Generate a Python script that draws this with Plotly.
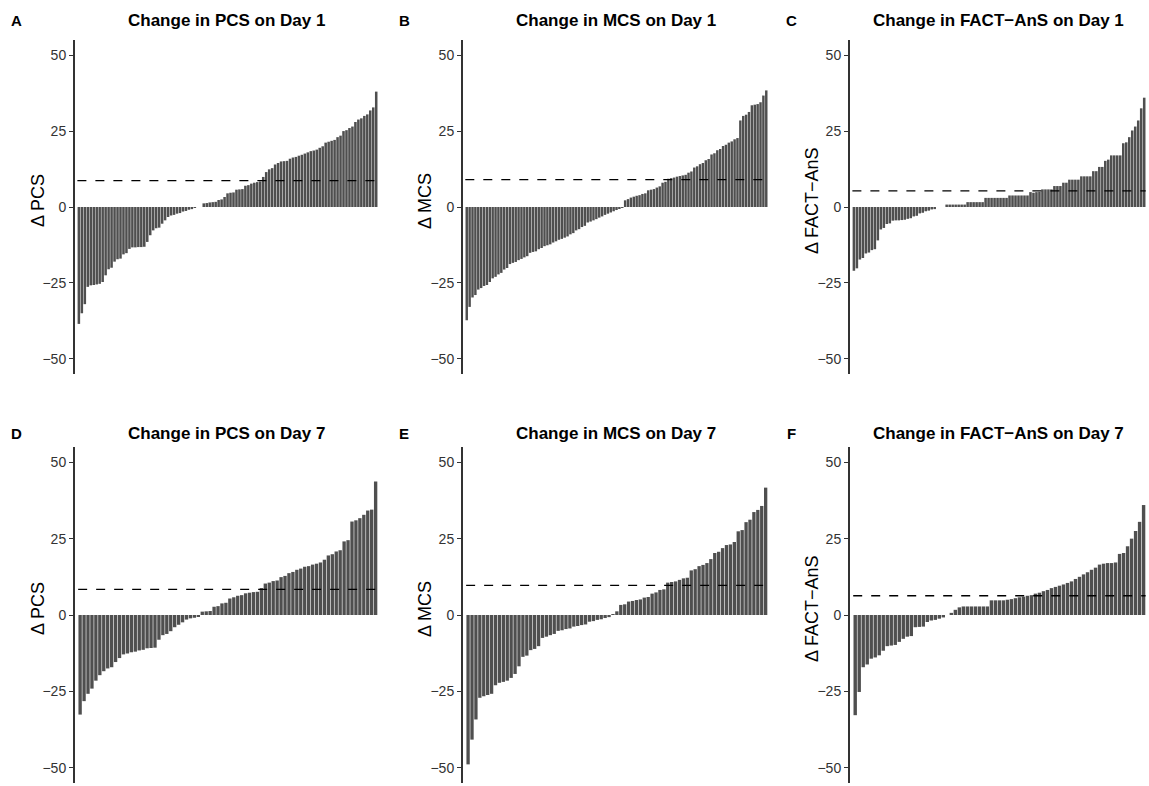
import plotly.graph_objects as go

# ---------------- data (sorted per-patient changes) ----------------
pcs_day1 = [-38.5, -35, -32, -26.3, -25.8, -25.7, -25.5, -25.3, -24.7, -22.5,
            -20.5, -20, -18, -17.2, -17, -15.6, -15.2, -13.8, -13.3, -13.3,
            -13.2, -13.2, -13.1, -11.5, -9.3, -7.7, -7, -6.8, -5.5, -4.4,
            -3.3, -2.8, -2.6, -2.2, -2, -1.5, -1.3, -0.9, -0.7, -0.3,
            0, 0, 1.2, 1.3, 1.5, 1.6, 1.7, 2.3, 2.5, 3.3,
            4.5, 4.7, 4.8, 5.7, 5.8, 5.9, 7, 7.2, 7.7, 8,
            8.2, 8.4, 9.9, 11.5, 12.4, 12.8, 14, 14.5, 15, 15.1,
            15.2, 15.9, 16.3, 16.5, 16.9, 17.2, 17.6, 18, 18.4, 18.6,
            18.9, 19.5, 20, 21.2, 21.5, 21.8, 22.1, 23, 23.5, 25,
            25.3, 26, 26.5, 28, 28.8, 29.2, 30, 30.5, 31.8, 32.8, 38]

mcs_day1 = [-37.3, -32.9, -29.8, -29, -27.2, -26.7, -26, -25.7, -24.7, -23.5,
            -23, -22.2, -21.7, -20.6, -20.1, -18.8, -18.4, -18.1, -17.5, -17.1,
            -16.6, -16.2, -15.1, -14.8, -14.6, -13.9, -13.5, -12.9, -12.6, -12.3,
            -11.7, -11.3, -10.8, -10.5, -10.1, -9.7, -9, -8.6, -7.7, -7.3,
            -6.6, -6.2, -5.1, -4.8, -4.4, -4.0, -3.5, -3.1, -2.6, -2.2,
            -1.8, -1.4, -1.0, -0.6, -0.2,
            2.2, 2.6, 3.1, 3.4, 3.7, 3.9, 4.3, 4.5, 5.5, 5.7,
            5.9, 6.4, 6.8, 8.0, 8.3, 9.3, 9.5, 9.7, 10.0, 10.2,
            10.4, 10.6, 11.3, 11.7, 13.0, 13.4, 14.1, 14.5, 15.4, 15.8,
            17.3, 17.7, 18.7, 19.1, 20.1, 20.5, 21.2, 21.6, 22.3, 22.7,
            28.5, 30.0, 30.4, 31.3, 33.5, 33.7, 33.9, 34.5, 36.7, 38.4]

fact_day1 = [-21, -20.2, -17.3, -16.8, -15.3, -15, -14.2, -13.9, -11, -7.4,
             -6.9, -5.6, -5.4, -4.5, -4.4, -4.4, -4.3, -4.2, -3.9, -3.7,
             -3.1, -2.9, -2.1, -1.9, -1.4, -1.2, -0.8, -0.7,
             0, 0, 0,
             0.8, 0.8, 0.8, 0.8, 0.8, 0.8, 0.8,
             1.6, 1.6, 1.6, 1.6, 1.6, 1.6,
             3.0, 3.0, 3.0, 3.0, 3.0, 3.0, 3.0, 3.0,
             3.8, 3.8, 3.8, 3.8, 3.8, 3.8, 3.8,
             4.9, 4.7, 4.9, 5.0, 5.8, 5.8, 5.8, 5.8, 6.9, 6.9, 6.9,
             8, 8, 9, 9, 9, 9, 10.1, 10.1, 10.1, 10.1,
             11.8, 11.8, 13.2, 13.2, 15.2, 15.6, 17, 17, 17, 17,
             21, 21.3, 23, 25.2, 26.5, 28.5, 32.5, 36]

pcs_day7 = [-32.6, -28.2, -25.8, -24.1, -21.5, -19.7, -18.4, -17.5, -17.1, -15.4,
            -14.1, -12.9, -12.6, -12.2, -12.0, -11.6, -11.4, -10.9, -10.8, -10.7,
            -8.1, -6.6, -6.2, -5.3, -4.0, -3.2, -2.4, -1.5, -1.1, -0.9, -0.4,
            1.1, 1.2, 1.3, 2.7, 2.9, 3.8, 4.0, 5.4, 5.8, 6.3,
            6.5, 7.1, 7.3, 7.5, 7.6, 8.8, 10.3, 10.6, 11.1, 11.3,
            12.4, 12.8, 13.7, 14.1, 14.8, 15.2, 15.8, 16.0, 16.5, 16.8,
            17.2, 18.1, 19.5, 19.9, 20.8, 21.2, 24.1, 24.5, 30.6, 31.0,
            31.7, 32.8, 34.2, 34.5, 43.7]

mcs_day7 = [-48.9, -40.8, -34.2, -27.1, -26.6, -26.2, -25.8, -23, -22.2, -21.9,
            -21.5, -20.6, -19.3, -16.8, -13.7, -13.3, -11.5, -11.1, -10.2, -7.5,
            -7.1, -6.6, -6.2, -5.2, -5.0, -4.6, -4.4, -3.8, -3.6, -3.3,
            -3.1, -2.2, -2.0, -1.6, -1.4, -1.0, -0.7,
            0.3, 1.2, 3.3, 3.5, 4.4, 4.6, 4.9, 5.1, 5.7, 5.9,
            7.0, 7.4, 8.2, 8.4, 10.6, 10.8, 11.0, 11.5, 12.0, 12.2,
            14.6, 15.0, 16.0, 16.4, 17, 18.3, 20.3, 20.7, 21.9, 22.9,
            23.1, 23.9, 27.4, 27.8, 30.4, 31.2, 33.7, 34.4, 35.7, 41.7]

fact_day7 = [-32.8, -25.2, -17.1, -16.2, -14.3, -13.9, -13.2, -11.7, -10.2, -10.0,
             -9.8, -8.8, -7.8, -7.1, -6.9, -4.0, -3.9, -3.8, -2.3, -1.8,
             -1.6, -1.2, -0.8, 0,
             0.7, 1.7, 2.5, 2.8, 2.8, 2.8, 2.8, 2.8, 2.8, 2.8,
             4.8, 4.8, 4.8, 4.8,
             5.0, 5.2, 5.5, 5.8, 6.0, 6.3, 6.5, 7.0, 7.3, 7.8,
             8.2, 8.8, 9.2, 9.6, 10.0, 10.5, 11.0, 11.8, 12.5, 13.3,
             14.0, 14.8, 15.5, 16.5, 16.8, 17.0, 17.0, 17.2, 20.0, 20.3,
             22.5, 25.0, 27.5, 30.5, 36.0]

panel_series = [pcs_day1, mcs_day1, fact_day1, pcs_day7, mcs_day7, fact_day7]
panel_thresholds = [8.7, 9.0, 5.3, 8.4, 9.7, 6.3]
panel_titles = ["Change in PCS on Day 1", "Change in MCS on Day 1", "Change in FACT\u2212AnS on Day 1",
                "Change in PCS on Day 7", "Change in MCS on Day 7", "Change in FACT\u2212AnS on Day 7"]
panel_ylabels = ["\u0394 PCS", "\u0394 MCS", "\u0394 FACT\u2212AnS",
                 "\u0394 PCS", "\u0394 MCS", "\u0394 FACT\u2212AnS"]
panel_letters = ["A", "B", "C", "D", "E", "F"]
y_ticks = [-50, -25, 0, 25, 50]

# ---------------- layout geometry (pixels) ----------------
W, H = 1149, 786
col_x = [(75, 378), (463, 768), (850, 1146)]
row_y = [(40, 374), (447, 783)]
ytitle_x = [38, 425, 812]
letter_x = [16, 404, 791]
title_y = [20, 433]

fig = go.Figure()
FONT = "Liberation Sans, Arial, Helvetica, sans-serif"

for i, vals in enumerate(panel_series):
    r, c = divmod(i, 3)
    xa = "x" if i == 0 else f"x{i+1}"
    ya = "y" if i == 0 else f"y{i+1}"
    n = len(vals)
    idx = list(range(n))
    fig.add_trace(go.Bar(x=idx, y=vals, xaxis=xa, yaxis=ya,
                         marker=dict(color="#4f4f4f", line=dict(width=0)),
                         showlegend=False, hoverinfo="y"))
    thr = panel_thresholds[i]
    fig.add_trace(go.Scatter(x=[-0.5, n - 0.5], y=[thr, thr], xaxis=xa, yaxis=ya,
                             mode="lines", line=dict(color="black", width=1.4, dash="dash"),
                             showlegend=False, hoverinfo="skip"))
    x0, x1 = col_x[c]
    y0, y1 = row_y[r]
    xkey = "xaxis" if i == 0 else f"xaxis{i+1}"
    ykey = "yaxis" if i == 0 else f"yaxis{i+1}"
    fig.update_layout(**{
        xkey: dict(domain=[x0 / W, x1 / W], range=[-1.3, n - 0.4], visible=False,
                   anchor=ya),
        ykey: dict(domain=[1 - y1 / H, 1 - y0 / H], range=[-55, 55], anchor=xa,
                   tickvals=y_ticks, ticks="outside", ticklen=4, tickwidth=1.2,
                   tickcolor="#333333", showline=True, linecolor="#333333", linewidth=2,
                   showgrid=False, zeroline=False,
                   tickfont=dict(family=FONT, size=14, color="#333333")),
    })
    cx = (x0 + x1) / 2
    fig.add_annotation(text=f"<b>{panel_titles[i]}</b>", x=cx / W, y=1 - title_y[r] / H,
                       xref="paper", yref="paper", showarrow=False,
                       font=dict(family=FONT, size=17, color="black"),
                       xanchor="center", yanchor="middle")
    fig.add_annotation(text=f"<b>{panel_letters[i]}</b>", x=letter_x[c] / W, y=1 - title_y[r] / H,
                       xref="paper", yref="paper", showarrow=False,
                       font=dict(family=FONT, size=15, color="black"),
                       xanchor="center", yanchor="middle")
    fig.add_annotation(text=panel_ylabels[i], x=ytitle_x[c] / W, y=1 - ((y0 + y1) / 2 - 6) / H,
                       xref="paper", yref="paper", showarrow=False, textangle=-90,
                       font=dict(family=FONT, size=18, color="black"),
                       xanchor="center", yanchor="middle")

fig.update_layout(width=W, height=H, margin=dict(l=0, r=0, t=0, b=0),
                  paper_bgcolor="white", plot_bgcolor="white", bargap=0.15)
fig.write_html("out.html", config={"displayModeBar": False},
               post_script="document.body.style.margin='0';document.body.style.overflow='hidden';")
